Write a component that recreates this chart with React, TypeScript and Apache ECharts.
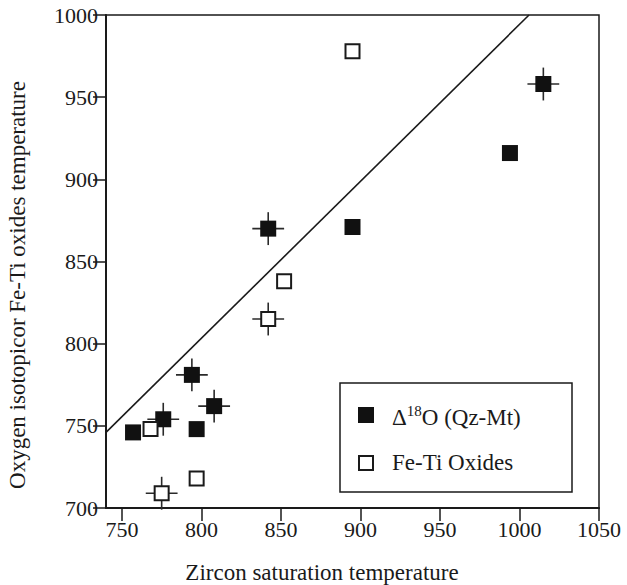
import React, { useEffect, useRef } from "react";
import * as echarts from "echarts";

// Δ18O (Qz-Mt) – filled squares
const filledX = [757, 776, 797, 794, 808, 842, 895, 994, 1015];
const filledY = [746, 754, 748, 781, 762, 870, 871, 916, 958];
const filledErr = [0, 10, 0, 10, 10, 10, 0, 0, 10];

// Fe-Ti Oxides – open squares
const openX = [768, 775, 797, 842, 852, 895];
const openY = [748, 709, 718, 815, 838, 978];
const openErr = [0, 10, 0, 10, 0, 0];

// reference line
const lineX = [740, 1006];
const lineY = [746, 1000];

const xTicks = [750, 800, 850, 900, 950, 1000, 1050];

const FONT = "Liberation Serif";
const INK = "#1a1a1a";

export default function App() {
  const ref = useRef<HTMLDivElement>(null);

  useEffect(() => {
    document.body.style.margin = "0";
    if (!ref.current) return;
    const chart = echarts.init(ref.current, null, { renderer: "svg" });

    const filledData = filledX.map((x, i) => [x, filledY[i]]);
    const openData = openX.map((x, i) => [x, openY[i]]);
    const errData: number[][] = [];
    filledX.forEach((x, i) => {
      if (filledErr[i] > 0) errData.push([x, filledY[i], filledErr[i], filledErr[i]]);
    });
    openX.forEach((x, i) => {
      if (openErr[i] > 0) errData.push([x, openY[i], openErr[i], openErr[i]]);
    });

    chart.setOption({
      animation: false,
      backgroundColor: "#fff",
      textStyle: { fontFamily: FONT },
      grid: {
        left: 106,
        right: 28,
        top: 15,
        bottom: 77,
        show: true,
        borderColor: INK,
        borderWidth: 1.5,
        backgroundColor: "transparent",
      },
      xAxis: {
        type: "value",
        min: 740,
        max: 1050,
        splitLine: { show: false },
        axisLine: { show: true, lineStyle: { color: INK, width: 2 } },
        axisTick: {
          show: true,
          inside: false,
          length: 13,
          customValues: xTicks,
          lineStyle: { color: INK, width: 1.5 },
        },
        axisLabel: {
          customValues: xTicks,
          color: INK,
          fontFamily: FONT,
          fontSize: 22,
          margin: 10,
          formatter: (v: number) => String(v),
        },
      },
      yAxis: {
        type: "value",
        min: 700,
        max: 1000,
        interval: 50,
        splitLine: { show: false },
        axisLine: { show: true, lineStyle: { color: INK, width: 2 } },
        axisTick: {
          show: true,
          inside: false,
          length: 13,
          lineStyle: { color: INK, width: 1.5 },
        },
        axisLabel: {
          color: INK,
          fontFamily: FONT,
          fontSize: 22,
          margin: 8,
          showMinLabel: true,
          showMaxLabel: true,
          formatter: (v: number) => String(v),
        },
      },
      series: [
        {
          type: "line",
          data: lineX.map((x, i) => [x, lineY[i]]),
          showSymbol: false,
          symbol: "none",
          lineStyle: { color: INK, width: 1.6 },
          z: 1,
          silent: true,
        },
        {
          type: "custom",
          data: errData,
          z: 2,
          silent: true,
          renderItem: (params: any, api: any) => {
            const x = api.value(0);
            const y = api.value(1);
            const ex = api.value(2);
            const ey = api.value(3);
            const l = api.coord([x - ex, y]);
            const r = api.coord([x + ex, y]);
            const b = api.coord([x, y - ey]);
            const t = api.coord([x, y + ey]);
            const st = { stroke: "#2a2a2a", lineWidth: 1.6 };
            return {
              type: "group",
              children: [
                { type: "line", shape: { x1: l[0], y1: l[1], x2: r[0], y2: r[1] }, style: st },
                { type: "line", shape: { x1: b[0], y1: b[1], x2: t[0], y2: t[1] }, style: st },
              ],
            };
          },
        },
        {
          name: "Δ18O (Qz-Mt)",
          type: "scatter",
          data: filledData,
          symbol: "rect",
          symbolSize: 16,
          itemStyle: { color: "#111", borderColor: "#111", borderWidth: 0, opacity: 1 },
          z: 3,
        },
        {
          name: "Fe-Ti Oxides",
          type: "scatter",
          data: openData,
          symbol: "rect",
          symbolSize: 14,
          itemStyle: { color: "#fff", borderColor: INK, borderWidth: 2, opacity: 1 },
          z: 3,
        },
      ],
      graphic: [
        {
          type: "text",
          x: 322,
          y: 572,
          style: {
            text: "Zircon saturation temperature",
            font: `23px ${FONT}`,
            fill: INK,
            align: "center",
            verticalAlign: "middle",
          },
        },
        {
          type: "text",
          x: 17,
          y: 285,
          rotation: Math.PI / 2,
          style: {
            text: "Oxygen isotopicor Fe-Ti oxides temperature",
            font: `23px ${FONT}`,
            fill: INK,
            align: "center",
            verticalAlign: "middle",
          },
        },
        {
          type: "rect",
          shape: { x: 340, y: 383, width: 232, height: 109 },
          style: { fill: "#fff", stroke: INK, lineWidth: 1.5 },
          z: 10,
        },
        {
          type: "rect",
          shape: { x: 358, y: 407, width: 16, height: 16 },
          style: { fill: "#111" },
          z: 11,
        },
        {
          type: "rect",
          shape: { x: 359, y: 456, width: 14, height: 14 },
          style: { fill: "#fff", stroke: INK, lineWidth: 2 },
          z: 11,
        },
        {
          type: "text",
          x: 392,
          y: 417,
          z: 11,
          style: {
            text: "{a|Δ}{s|18}{a|O (Qz-Mt)}",
            fill: INK,
            verticalAlign: "middle",
            rich: {
              a: { fontFamily: FONT, fontSize: 23, fill: INK, color: INK },
              s: {
                fontFamily: FONT,
                fontSize: 15,
                fill: INK,
                color: INK,
                padding: [0, 0, 12, 0],
              },
            },
          },
        },
        {
          type: "text",
          x: 392,
          y: 462,
          z: 11,
          style: {
            text: "Fe-Ti Oxides",
            font: `23px ${FONT}`,
            fill: INK,
            verticalAlign: "middle",
          },
        },
      ],
    });

    return () => chart.dispose();
  }, []);

  return <div ref={ref} style={{ width: 627, height: 585 }} />;
}
